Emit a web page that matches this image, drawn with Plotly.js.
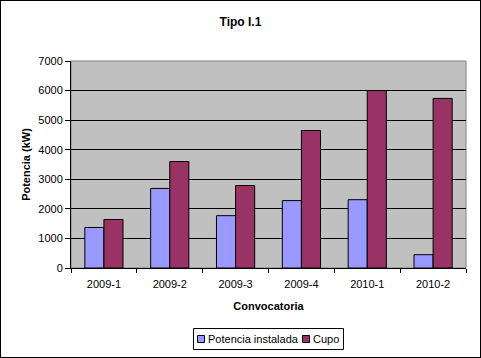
<!DOCTYPE html>
<html><head><meta charset="utf-8">
<script src="https://cdn.plot.ly/plotly-3.0.1.min.js"></script>
<style>html,body{margin:0;padding:0;background:#fff}#wrap{position:relative;width:481px;height:358px}#frame{position:absolute;left:0;top:0;width:481px;height:358px;box-sizing:border-box;border:1px solid #000;pointer-events:none}</style>
</head><body>
<div id="wrap"><div id="chart" style="width:481px;height:358px"></div><div id="frame"></div></div>
<script>
const categories = ["2009-1","2009-2","2009-3","2009-4","2010-1","2010-2"];
const potenciaInstalada = [1370, 2690, 1770, 2280, 2310, 450];
const cupo = [1640, 3600, 2790, 4650, 6000, 5735];
const yTicks = [0,1000,2000,3000,4000,5000,6000,7000];
const seriesNames = ["Potencia instalada", "Cupo"];
const seriesColors = ["#9999FF", "#993366"];

const font = "Liberation Sans, Arial, sans-serif";
const traces = [
  {type:'bar', name:seriesNames[0], x:categories, y:potenciaInstalada,
   marker:{color:seriesColors[0], line:{color:'#000', width:1}}},
  {type:'bar', name:seriesNames[1], x:categories, y:cupo,
   marker:{color:seriesColors[1], line:{color:'#000', width:1}}}
];

// plot area in pixels: x 71..466, y 61..268
const L=71, R=466, T=61, B=268;
const px = v => (v-L)/(R-L);
const py = v => (B-v)/(B-T);

const shapes = [
  {type:'rect', xref:'paper', yref:'paper', x0:0, x1:1, y0:0, y1:1, line:{color:'#808080', width:1}, layer:'below'},
  // legend box
  {type:'rect', xref:'paper', yref:'paper', x0:px(193.5), x1:px(343.5), y0:py(349.5), y1:py(328.5), line:{color:'#000', width:1}, fillcolor:'#fff'},
  {type:'rect', xref:'paper', yref:'paper', x0:px(197.5), x1:px(204.5), y0:py(342.5), y1:py(335.5), line:{color:'#000', width:1}, fillcolor:seriesColors[0]},
  {type:'rect', xref:'paper', yref:'paper', x0:px(302.5), x1:px(309.5), y0:py(342.5), y1:py(335.5), line:{color:'#000', width:1}, fillcolor:seriesColors[1]}
];
const annotations = [
  {xref:'paper', yref:'paper', x:px(206), y:py(339), xanchor:'left', yanchor:'middle', text:seriesNames[0], showarrow:false, font:{family:font, size:11, color:'#000'}},
  {xref:'paper', yref:'paper', x:px(311), y:py(339), xanchor:'left', yanchor:'middle', text:seriesNames[1], showarrow:false, font:{family:font, size:11, color:'#000'}}
];

const layout = {
  width:481, height:358,
  margin:{l:L, r:481-R, t:T, b:358-B},
  paper_bgcolor:'#fff', plot_bgcolor:'#C0C0C0',
  font:{family:font, size:11, color:'#000'},
  title:{text:'<b>Tipo I.1</b>', x:0.5, xanchor:'center', y:1-22/358, yanchor:'middle', font:{family:font, size:12, color:'#000'}},
  barmode:'group', bargap:0.42, bargroupgap:0,
  showlegend:false,
  xaxis:{type:'category', showline:true, linecolor:'#000', linewidth:1,
    ticks:'outside', ticklen:4, tickcolor:'#000', tickson:'boundaries', ticklabelstandoff:6,
    showgrid:false, automargin:false,
    title:{text:'<b>Convocatoria</b>', standoff:13, font:{family:font, size:11}}},
  yaxis:{range:[0,7000], tickvals:yTicks, showline:true, linecolor:'#000', linewidth:1,
    ticks:'outside', ticklen:5, tickcolor:'#000', showgrid:true, gridcolor:'#000', gridwidth:1,
    zeroline:false, automargin:false, tickformat:'d',
    title:{text:'<b>Potencia (kW)</b>', standoff:5, font:{family:font, size:11}}},
  shapes: shapes,
  annotations: annotations
};
Plotly.newPlot('chart', traces, layout, {displayModeBar:false, staticPlot:true});
</script>
</body></html>
